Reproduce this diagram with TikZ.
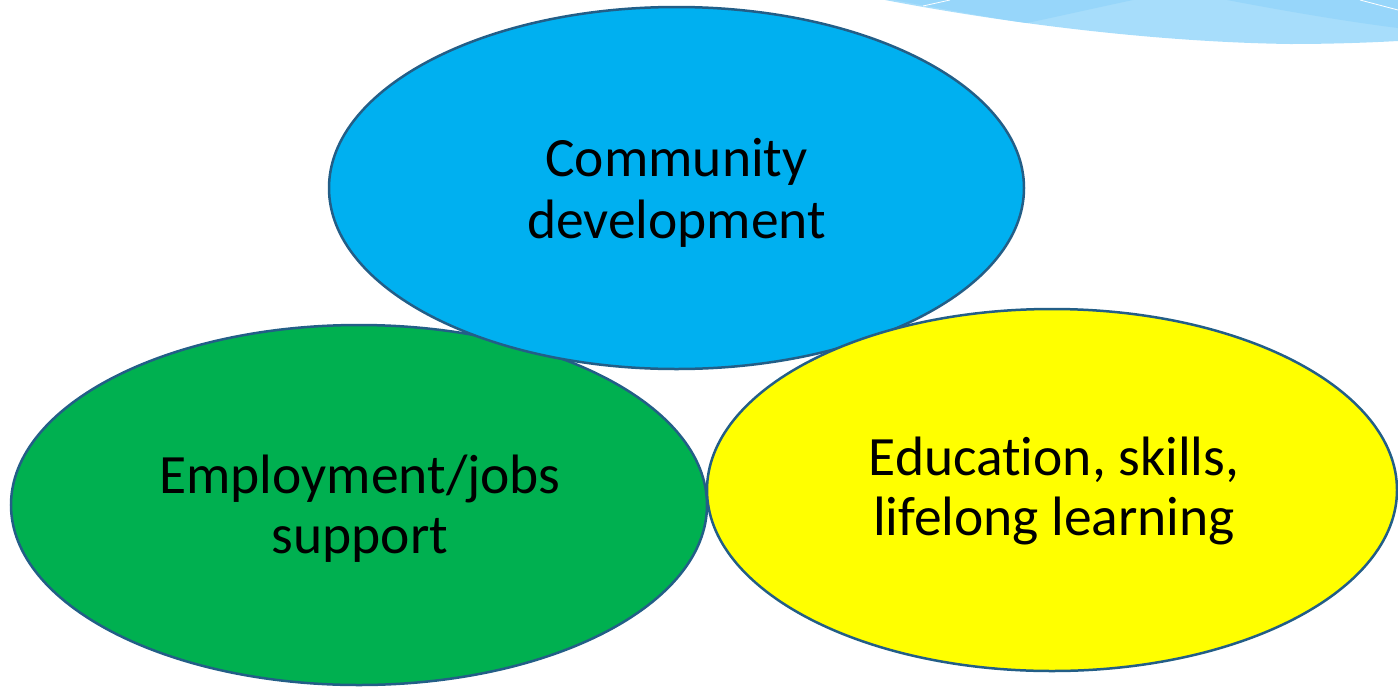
\documentclass[tikz,border=0pt]{standalone}
\usepackage{fontspec}
\setmainfont{Carlito}[Ligatures=NoCommon]
\usetikzlibrary{shapes.geometric}
\definecolor{edgeblue}{RGB}{35,94,135}
\definecolor{cblue}{HTML}{00B0F0}
\definecolor{cgreen}{HTML}{00B050}
\definecolor{cyellow}{HTML}{FFFF00}
\definecolor{wavedark}{HTML}{97D6FA}
\definecolor{wavelight}{HTML}{A7DDFB}
\tikzset{
  bubble/.style={ellipse, draw=edgeblue, line width=2.5pt, inner sep=0pt},
  lbl/.style={inner sep=0pt, anchor=base, font=\fontsize{55.5}{62}\selectfont, text=black}
}
\begin{document}
\begin{tikzpicture}[x=1pt,y=-1pt]
\useasboundingbox (0,0) rectangle (1398,686);
% top-right wave decoration
\fill[wavelight] (885,0) .. controls (1000,22) and (1150,42) .. (1290,44)
  .. controls (1340,44) and (1380,42) .. (1398,41) -- (1398,0) -- cycle;
\fill[wavedark] (893,0) .. controls (950,10) and (990,18) .. (1027,23)
  .. controls (1060,16) and (1100,7) .. (1133,0) -- cycle;
\fill[wavedark] (1227,0) .. controls (1290,12) and (1350,22) .. (1398,28) -- (1398,0) -- cycle;
\draw[white, line width=0.8pt] (923,6) -- (950,0);
\draw[white, line width=0.8pt] (1360,0) -- (1398,10);
% ellipses
\node[bubble, fill=cgreen, minimum width=696pt, minimum height=360pt] (emp) at (359,505) {};
\node[bubble, fill=cblue, minimum width=695pt, minimum height=362pt] (com) at (676.5,188) {};
\node[bubble, fill=cyellow, minimum width=690pt, minimum height=362pt] (edu) at (1052,490) {};
% labels
\node[lbl] (com1) at (676.5,176) {Community};
\node[lbl] (com2) at (676.5,238) {development};
\node[lbl] (emp1) at (360,493) {Employment/jobs};
\node[lbl] (emp2) at (360,553) {support};
\node[lbl] (edu1) at (1054,475) {Education, skills,};
\node[lbl] (edu2) at (1054,535) {lifelong learning};
\end{tikzpicture}
\end{document}
